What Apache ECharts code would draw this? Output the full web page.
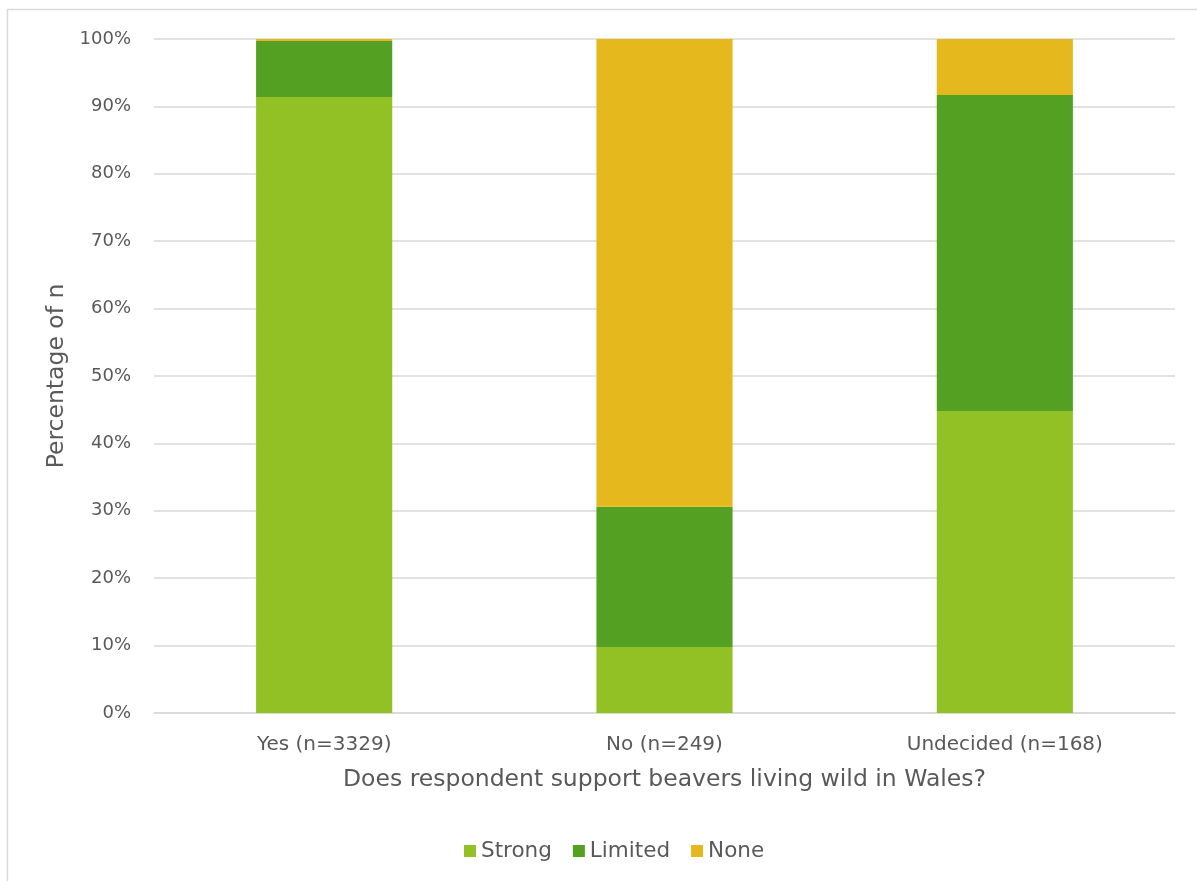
<!DOCTYPE html>
<html>
<head>
<meta charset="utf-8">
<script src="https://cdn.jsdelivr.net/npm/echarts@6/dist/echarts.min.js"></script>
<style>
html,body{margin:0;padding:0;background:#fff;}
#chart{width:1197px;height:881px;}
</style>
</head>
<body>
<div id="chart"></div>
<script>
const categories = ['Yes (n=3329)', 'No (n=249)', 'Undecided (n=168)'];
const strongValues = [91.4, 9.8, 44.8];
const limitedValues = [8.3, 20.8, 46.9];
const noneValues = [0.3, 69.4, 8.3];
const seriesNames = ['Strong', 'Limited', 'None'];
const xAxisTitle = 'Does respondent support beavers living wild in Wales?';
const yAxisTitle = 'Percentage of n';

const colors = ['#92C126', '#54A022', '#E5B91E'];
const textColor = '#595959';
const fontFamily = 'DejaVu Sans';

const chart = echarts.init(document.getElementById('chart'), null, {renderer: 'canvas'});
const valuesList = [strongValues, limitedValues, noneValues];

chart.setOption({
  animation: false,
  textStyle: {fontFamily: fontFamily, color: textColor},
  graphic: [{
    type: 'rect',
    shape: {x: 7.5, y: 9.5, width: 1300, height: 1000},
    style: {fill: 'none', stroke: '#d9d9d9', lineWidth: 1.5},
    silent: true, z: -1
  }],
  grid: {left: 154, right: 22, top: 39, bottom: 168, containLabel: false},
  legend: {
    bottom: 14,
    left: 459,
    itemWidth: 12, itemHeight: 12, itemGap: 21,
    icon: 'rect',
    textStyle: {fontFamily: fontFamily, fontSize: 21.5, color: textColor},
    data: seriesNames
  },
  xAxis: {
    type: 'category',
    data: categories,
    axisTick: {show: false},
    axisLine: {lineStyle: {color: '#d9d9d9', width: 1.5}},
    axisLabel: {fontSize: 20, color: textColor, margin: 22},
    name: xAxisTitle,
    nameLocation: 'middle',
    nameGap: 55,
    nameTextStyle: {fontSize: 23.5, color: textColor}
  },
  yAxis: {
    type: 'value',
    min: 0, max: 100, interval: 10,
    axisLabel: {formatter: '{value}%', fontSize: 18, color: textColor, margin: 23},
    splitLine: {lineStyle: {color: '#d9d9d9', width: 1.5}},
    axisLine: {show: false},
    axisTick: {show: false},
    name: yAxisTitle,
    nameLocation: 'middle',
    nameGap: 84,
    nameRotate: 90,
    nameTextStyle: {fontSize: 23.5, color: textColor}
  },
  series: seriesNames.map((name, i) => ({
    name: name,
    type: 'bar',
    stack: 'total',
    barWidth: '40%',
    itemStyle: {color: colors[i]},
    data: valuesList[i]
  }))
});
</script>
</body>
</html>
